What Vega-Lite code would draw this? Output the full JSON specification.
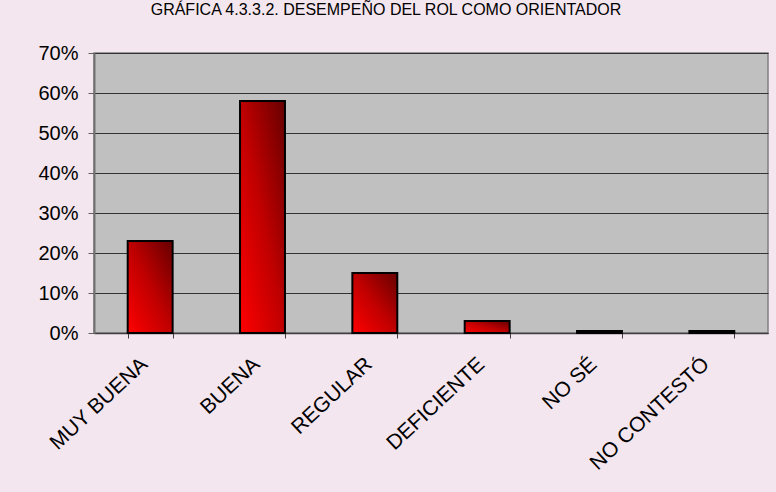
{
  "$schema": "https://vega.github.io/schema/vega-lite/v6.json",
  "autosize": "none",
  "width": 674,
  "height": 280,
  "padding": {"left": 94, "top": 53, "right": 8, "bottom": 159},
  "background": "#f4e6ee",
  "title": {
    "text": "GRÁFICA 4.3.3.2. DESEMPEÑO DEL ROL COMO ORIENTADOR",
    "font": "Liberation Sans",
    "fontSize": 16,
    "fontWeight": "normal",
    "color": "#000000",
    "anchor": "middle",
    "frame": "group",
    "dx": -45,
    "baseline": "alphabetic",
    "offset": 12
  },
  "data": {
    "values": [
      {"categoria": "MUY BUENA", "porcentaje": 0.23},
      {"categoria": "BUENA", "porcentaje": 0.58},
      {"categoria": "REGULAR", "porcentaje": 0.15},
      {"categoria": "DEFICIENTE", "porcentaje": 0.03},
      {"categoria": "NO SÉ", "porcentaje": 0.005},
      {"categoria": "NO CONTESTÓ", "porcentaje": 0.005}
    ]
  },
  "mark": {
    "type": "bar",
    "stroke": "#000000",
    "strokeWidth": 2,
    "color": {
      "gradient": "linear",
      "x1": 0, "y1": 1, "x2": 1, "y2": 0,
      "stops": [
        {"offset": 0, "color": "#ff0000"},
        {"offset": 0.5, "color": "#c00000"},
        {"offset": 1, "color": "#660000"}
      ]
    }
  },
  "encoding": {
    "x": {
      "field": "categoria",
      "type": "nominal",
      "sort": null,
      "title": null,
      "scale": {"paddingInner": 0.6, "paddingOuter": 0.3},
      "axis": {
        "tickBand": "extent",
        "labelAngle": -43,
        "labelAlign": "right",
        "labelBaseline": "middle",
        "labelFont": "Liberation Sans",
        "labelFontSize": 21,
        "labelColor": "#000000",
        "labelPadding": 23,
        "labelOffset": -6,
        "tickSize": 5,
        "tickColor": "#404040",
        "domainColor": "#404040",
        "domainWidth": 1.5,
        "labelOverlap": false
      }
    },
    "y": {
      "field": "porcentaje",
      "type": "quantitative",
      "title": null,
      "scale": {"domain": [0, 0.7], "nice": false},
      "axis": {
        "values": [0, 0.1, 0.2, 0.3, 0.4, 0.5, 0.6, 0.7],
        "format": ".0%",
        "labelFont": "Liberation Sans",
        "labelFontSize": 20,
        "labelColor": "#000000",
        "labelPadding": 10,
        "tickSize": 6,
        "tickColor": "#606060",
        "domainColor": "#707070",
        "domainWidth": 2,
        "grid": true,
        "gridColor": "#333333",
        "gridWidth": 1
      }
    }
  },
  "config": {
    "view": {"fill": "#c0c0c0", "stroke": "#808080", "strokeWidth": 1.5}
  }
}
